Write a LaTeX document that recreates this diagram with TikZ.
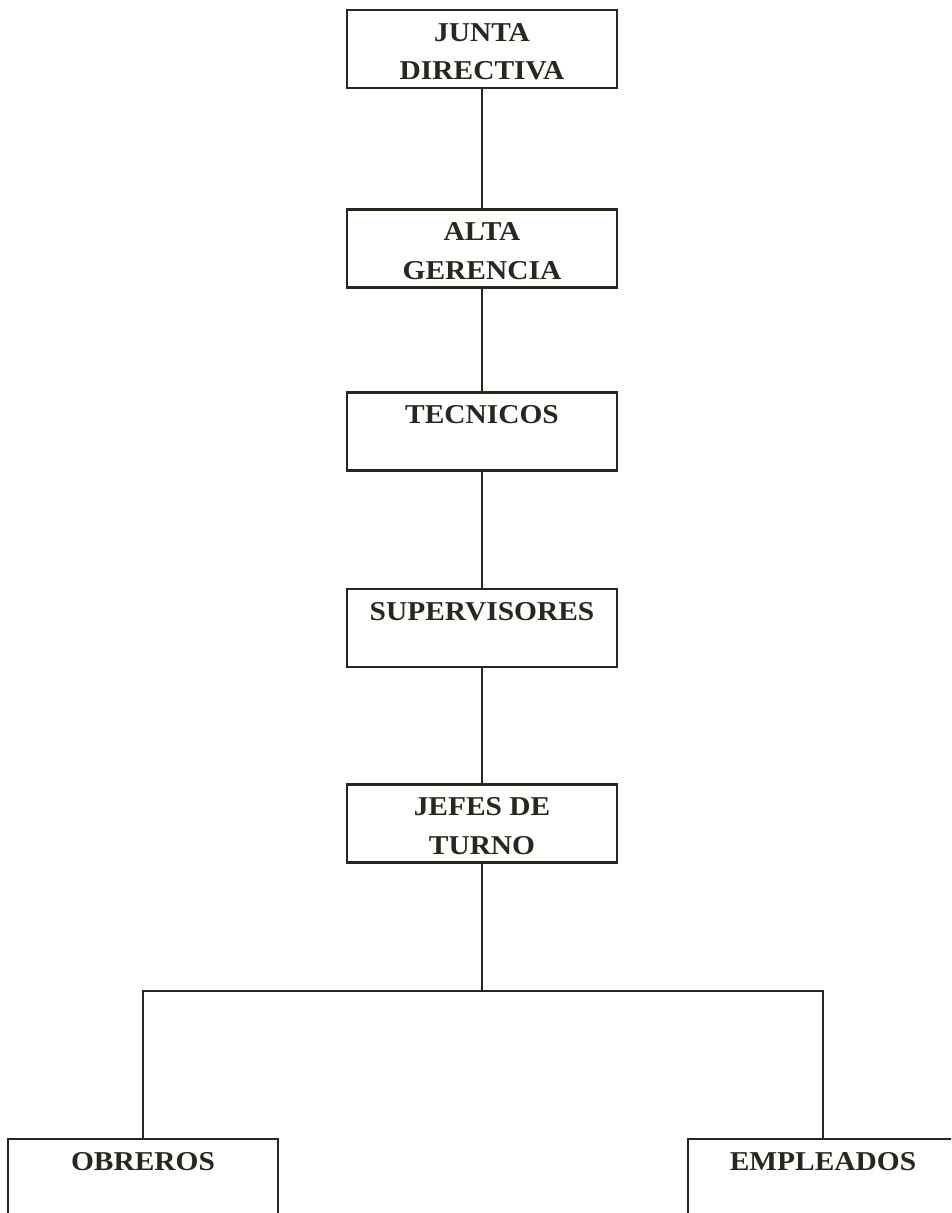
\documentclass[tikz,border=0pt]{standalone}
\usepackage{fontspec}
\newfontfamily\puestofont{Liberation Serif Bold}[FakeStretch=1.08]
\definecolor{tinta}{RGB}{38,40,30}
\newcommand\arriba{\rule{0pt}{17pt}}
\newcommand\abajo{\rule[-4pt]{0pt}{0pt}}
\begin{document}
\begin{tikzpicture}[x=0.02cm,y=-0.02cm,
    puesto/.style={draw=tinta,line width=1.2pt,rectangle,
        minimum width=5.4cm,minimum height=1.56cm,inner sep=0pt,
        align=center,text=tinta,font=\puestofont\fontsize{15.5}{22}\selectfont},
    linea/.style={draw=tinta,line width=1.2pt}]
\clip (0,0) rectangle (951,1213);
\fill[white] (0,0) rectangle (951,1213);
% cadena de mando
\node[puesto] (junta) at (482,49) {\arriba JUNTA\\DIRECTIVA\abajo};
\node[puesto] (alta) at (482,248.5) {\arriba ALTA\\GERENCIA\abajo};
\node[puesto] (tecnicos) at (482,431.5) {\arriba TECNICOS\\\abajo};
\node[puesto] (supervisores) at (482,628) {\arriba SUPERVISORES\\\abajo};
\node[puesto] (jefes) at (482,823.5) {\arriba JEFES DE\\TURNO\abajo};
\node[puesto] (obreros) at (143,1178) {\arriba OBREROS\\\abajo};
\node[puesto] (empleados) at (823,1178) {\arriba EMPLEADOS\\\abajo};
\coordinate (reparto) at (482,991);
\foreach \a/\b in {junta/alta,alta/tecnicos,tecnicos/supervisores,supervisores/jefes}{
    \draw[linea] (\a) -- (\b);
}
\draw[linea] (jefes) -- (reparto);
\draw[linea] (obreros) |- (reparto) -| (empleados);
\end{tikzpicture}
\end{document}
